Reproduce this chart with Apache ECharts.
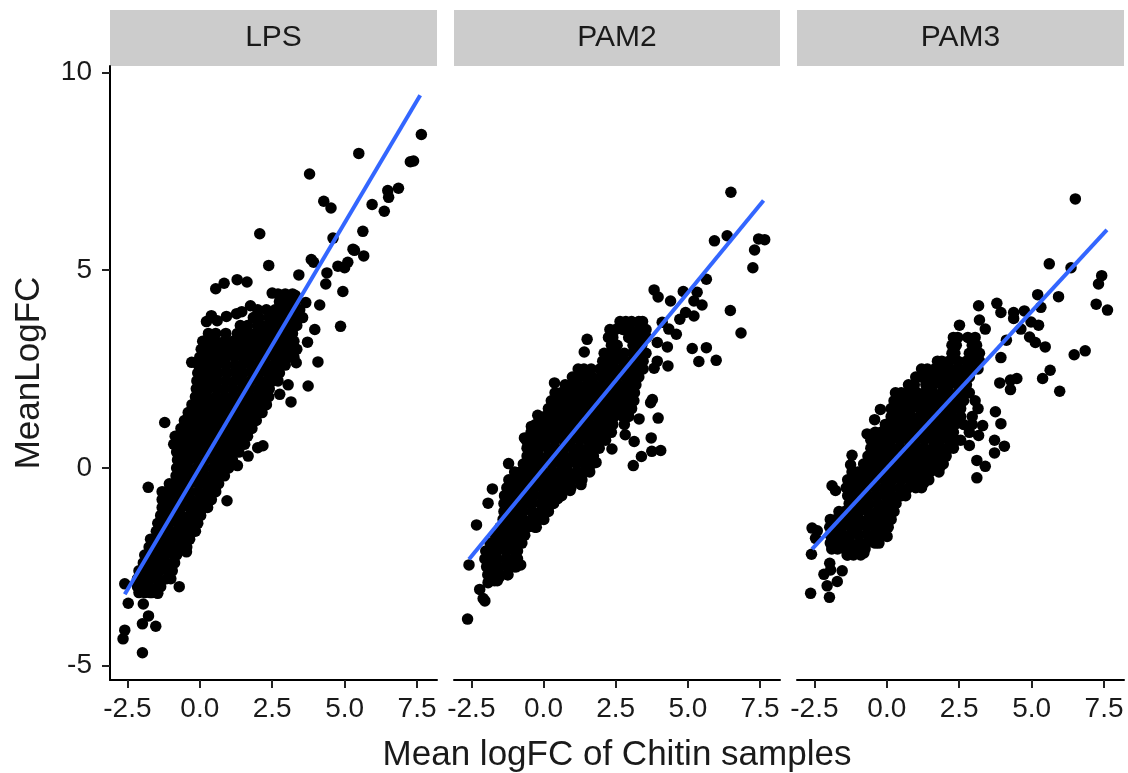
<!DOCTYPE html>
<html>
<head>
<meta charset="utf-8">
<title>MeanLogFC</title>
<script src="https://cdn.jsdelivr.net/npm/echarts@6/dist/echarts.min.js"></script>
<style>
html,body{margin:0;padding:0;background:#fff}
#main{width:1128px;height:773px}
</style>
</head>
<body>
<div id="main"></div>
<script>
var panelNames = ['LPS', 'PAM2', 'PAM3'];
var xTicks = [-2.5, 0, 2.5, 5, 7.5];
var yTicks = [-5, 0, 5, 10];

// fit lines: [x, y] at both ends
var lpsFit = [[-2.59, -3.19], [7.61, 9.42]];
var pam2Fit = [[-2.58, -2.31], [7.62, 6.76]];
var pam3Fit = [[-2.58, -2.05], [7.6, 6.02]];

// points that can be told apart in the picture
var lpsLoose = [[7.65,8.43],[5.49,7.95],[7.38,7.76],[7.27,7.74],[3.79,7.43],[6.86,7.07],[6.49,7.01],[6.52,6.84],[5.95,6.66],[6.37,6.49],
[4.28,6.74],[4.53,6.57],[5.63,5.98],[2.07,5.92],[4.6,5.81],[5.29,5.53],[5.34,5.5],[5.66,5.36],[2.38,5.12],[3.85,5.27],[3.93,5.2],
[5.11,5.2],[4.77,5.1],[5.0,5.06],[3.42,4.88],[4.39,4.93],[4.35,4.65],[4.94,4.46],[1.63,4.7],[1.29,4.76],[0.84,4.67],[0.55,4.53],
[4.14,4.12],[3.66,4.18],[4.86,3.58],[3.97,3.5],[0.23,3.7],[4.08,2.68],[3.74,2.07],[3.15,1.67],[2.76,1.86],[3.05,2.1],[3.33,2.66],[3.72,3.18],
[-1.21,1.15],[-0.28,2.67],[2.18,0.56],[2.0,0.51],[1.67,0.3],[1.3,0.06],[0.94,-0.83],[-1.78,-0.49],[-0.46,-2.12],[-0.71,-3.0],
[-2.59,-2.93],[-2.47,-3.42],[-1.95,-3.44],[-1.77,-3.74],[-1.98,-3.94],[-1.52,-4.0],[-2.59,-4.1],[-2.65,-4.32],[-1.98,-4.67],[-1.45,-3.17],[-1.72,-3.15],
[0.4,3.85],[0.92,3.83],[1.27,3.9],[0.6,3.72],[1.75,4.1],[1.45,3.95],[2.5,4.42],[3.3,4.36]];

var pam2Loose = [[6.49,6.97],[6.36,5.87],[5.92,5.74],[7.45,5.79],[7.66,5.77],[7.31,5.51],[7.25,5.06],[5.64,4.77],[6.47,3.98],[6.84,3.41],
[3.83,4.5],[3.97,4.32],[4.4,4.22],[4.84,4.46],[5.32,4.44],[5.21,4.22],[5.49,4.12],[4.92,3.93],[5.21,3.84],[4.72,3.76],[4.11,3.68],[4.34,3.51],
[4.6,3.38],[3.94,3.17],[4.29,3.06],[5.15,3.02],[5.64,3.04],[5.38,2.69],[5.98,2.72],[3.94,2.7],[3.83,2.52],[4.31,2.58],[3.77,1.73],[3.71,1.65],
[3.97,1.26],[3.73,0.76],[3.31,1.24],[3.14,0.67],[2.83,0.84],[2.37,0.48],[4.06,0.44],[3.75,0.42],[3.39,0.29],[3.11,0.06],[1.82,0.14],
[1.51,3.25],[1.41,2.93],[0.38,2.15],[-0.2,1.33],[-0.42,1.05],[-0.66,0.76],[-1.21,0.11],[-1.77,-0.53],[-1.92,-0.89],[-2.32,-1.44],[-2.58,-2.45],
[-2.21,-3.07],[-2.03,-3.36],[-2.09,-3.3],[-2.63,-3.82],[-0.79,-2.45],[-1.54,-2.77],[-1.92,-2.9],[0.49,-0.78],[0.92,-0.57],[1.3,-0.42],[0.15,-1.06]];

var pam3Loose = [[6.51,6.8],[5.61,5.16],[6.36,5.06],[7.42,4.86],[7.31,4.65],[5.93,4.33],[5.21,4.38],[7.23,4.14],[7.62,3.99],[5.32,4.06],[3.17,4.1],
[3.8,4.16],[3.94,3.93],[4.38,3.93],[4.38,3.78],[4.75,3.97],[4.98,3.69],[5.24,3.61],[4.63,3.51],[4.93,3.31],[5.13,3.17],[5.47,3.06],[4.13,3.23],
[6.85,2.96],[6.47,2.86],[5.64,2.47],[5.38,2.26],[5.97,1.94],[4.49,2.26],[4.27,2.22],[4.27,1.98],[3.9,2.15],[3.94,2.79],[2.51,3.61],[3.2,3.74],[3.4,3.51],
[3.75,1.42],[3.94,1.12],[3.72,0.7],[4.06,0.55],[3.72,0.38],[3.31,1.07],[3.17,0.82],[2.85,0.57],[3.11,0.19],[3.4,0.04],[3.11,-0.25],[-0.22,1.48],[-0.42,1.22],
[-0.68,0.86],[-1.2,0.32],[-1.25,0.08],[-1.89,-0.45],[-1.77,-0.57],[-2.58,-1.52],[-2.4,-1.59],[-2.46,-1.78],[-2.6,-2.18],[-1.97,-2.41],[-1.54,-2.6],
[-2.17,-2.69],[-1.71,-2.87],[-2.06,-2.98],[-2.63,-3.17],[-1.98,-3.27],[-1.94,-2.58],[0.01,-1.73],[-0.79,-2.15],[-1.37,-2.2],[1.28,-0.38],[0.87,-0.42],[1.85,0.04]];

// the solid middle of each cloud, where single points overlap and cannot be read;
// estimated by eye, one line per y level: [y, x, x, ...]
var lpsCore = [
[4.4,2.7,2.95,3.2],
[4.2,2.75,3.05,3.3],
[4.0,2.0,2.3,2.6,2.85,3.15,3.45],
[3.8,1.85,2.05,2.4,2.7,3.0,3.3,3.55],
[3.6,1.4,1.65,2.0,2.3,2.6,2.9,3.2,3.35],
[3.4,0.3,0.55,0.9,1.3,1.6,1.9,2.2,2.5,2.8,3.05,3.2],
[3.2,0.1,0.3,0.55,0.85,1.15,1.45,1.75,2.0,2.3,2.6,2.85,3.05,3.25],
[3.0,0.05,0.25,0.5,0.75,1.05,1.35,1.6,1.9,2.2,2.45,2.75,3.0,3.2,3.35],
[2.8,0.0,0.2,0.4,0.65,0.9,1.2,1.5,1.75,2.05,2.3,2.6,2.9,3.1,3.25],
[2.6,-0.05,0.15,0.35,0.6,0.9,1.2,1.45,1.75,2.0,2.3,2.55,2.8,2.95],
[2.4,-0.07,0.15,0.4,0.65,0.95,1.25,1.5,1.8,2.05,2.35,2.6,2.75],
[2.2,-0.1,0.1,0.35,0.6,0.9,1.2,1.45,1.75,2.05,2.3,2.5,2.7],
[2.0,-0.12,0.1,0.3,0.6,0.85,1.15,1.45,1.7,2.0,2.25,2.4],
[1.8,-0.15,0.05,0.25,0.55,0.85,1.1,1.4,1.7,1.95,2.2,2.38],
[1.6,-0.27,-0.1,0.15,0.45,0.7,1.0,1.3,1.55,1.85,2.1,2.3],
[1.4,-0.4,-0.2,0.05,0.3,0.6,0.9,1.15,1.45,1.75,1.95,2.15],
[1.2,-0.53,-0.35,-0.1,0.2,0.45,0.75,1.05,1.3,1.6,1.8,1.95],
[1.0,-0.65,-0.45,-0.2,0.05,0.35,0.65,0.9,1.2,1.5,1.65,1.8],
[0.8,-0.85,-0.65,-0.4,-0.15,0.15,0.45,0.7,1.0,1.3,1.5,1.65],
[0.6,-0.9,-0.7,-0.5,-0.2,0.05,0.35,0.65,0.9,1.2,1.4,1.55],
[0.4,-0.8,-0.6,-0.35,-0.1,0.2,0.5,0.75,1.05,1.2,1.35],
[0.2,-0.77,-0.6,-0.35,-0.05,0.2,0.5,0.8,1.0,1.13],
[0.0,-0.8,-0.65,-0.4,-0.1,0.15,0.45,0.7,0.9,1.0],
[-0.2,-0.82,-0.65,-0.4,-0.15,0.15,0.4,0.65,0.85],
[-0.4,-1.05,-0.85,-0.65,-0.35,-0.05,0.2,0.45,0.65],
[-0.6,-1.3,-1.15,-0.9,-0.6,-0.35,-0.05,0.25,0.45,0.55],
[-0.8,-1.3,-1.1,-0.85,-0.6,-0.3,0.0,0.25,0.4],
[-1.0,-1.3,-1.15,-0.9,-0.65,-0.35,-0.05,0.15,0.27],
[-1.2,-1.35,-1.15,-0.95,-0.65,-0.35,-0.1,0.03],
[-1.4,-1.45,-1.25,-1.05,-0.75,-0.45,-0.2,-0.07],
[-1.6,-1.5,-1.35,-1.1,-0.8,-0.55,-0.25,-0.15],
[-1.8,-1.7,-1.5,-1.25,-1.0,-0.7,-0.45,-0.35],
[-2.0,-1.75,-1.55,-1.3,-1.05,-0.75,-0.55,-0.45],
[-2.2,-1.9,-1.7,-1.45,-1.2,-0.9,-0.8],
[-2.4,-1.95,-1.75,-1.55,-1.25,-0.95,-0.87],
[-2.6,-2.1,-1.9,-1.65,-1.4,-1.1,-0.95],
[-2.8,-2.15,-1.95,-1.7,-1.45,-1.15,-1.0],
[-3.0,-2.15,-1.95,-1.75,-1.45,-1.35],
[-3.15,-2.1,-1.9,-1.65,-1.5]
];

var pam2Core = [
[3.7,2.65,2.85,3.05,3.3,3.43],
[3.5,2.3,2.5,2.75,3.0,3.3,3.55],
[3.3,2.25,2.4,2.95,3.25,3.45,3.57],
[3.1,2.35,2.55,3.1,3.35,3.4],
[2.9,2.1,2.3,2.55,2.8,3.1,3.4,3.55],
[2.7,2.05,2.25,2.45,2.75,3.05,3.3,3.45],
[2.5,1.2,1.4,1.65,1.95,2.2,2.5,2.8,3.05,3.3,3.45],
[2.3,1.0,1.2,1.45,1.7,2.0,2.3,2.55,2.85,3.15,3.3],
[2.1,0.75,0.95,1.2,1.5,1.75,2.05,2.35,2.6,2.9,3.05,3.2],
[1.9,0.4,0.6,0.85,1.1,1.4,1.7,1.95,2.25,2.55,2.8,3.0,3.15],
[1.7,0.27,0.45,0.7,1.0,1.25,1.55,1.85,2.1,2.4,2.7,2.95,3.13],
[1.5,0.17,0.35,0.6,0.85,1.15,1.45,1.7,2.0,2.3,2.55,2.85,3.05],
[1.3,0.05,0.25,0.45,0.75,1.05,1.3,1.6,1.9,2.15,2.45,2.75,2.95],
[1.1,-0.27,-0.1,0.15,0.45,0.7,1.0,1.3,1.55,1.85,2.15,2.4,2.8],
[0.9,-0.43,-0.25,0.0,0.3,0.55,0.85,1.15,1.4,1.7,2.0,2.2,2.35],
[0.7,-0.6,-0.4,-0.15,0.1,0.4,0.7,0.95,1.25,1.55,1.8,2.0,2.15],
[0.5,-0.57,-0.4,-0.15,0.15,0.4,0.7,1.0,1.25,1.55,1.8,1.93],
[0.3,-0.57,-0.37,-0.15,0.15,0.45,0.7,1.0,1.3,1.55,1.73],
[0.1,-0.7,-0.5,-0.25,0.0,0.3,0.6,0.85,1.15,1.45,1.67],
[-0.1,-1.0,-0.8,-0.55,-0.3,0.0,0.3,0.55,0.85,1.15,1.4,1.6],
[-0.3,-1.2,-1.0,-0.75,-0.5,-0.2,0.1,0.35,0.65,0.95,1.2,1.33],
[-0.5,-1.27,-1.1,-0.85,-0.55,-0.3,0.0,0.3,0.55,0.8,0.95],
[-0.7,-1.35,-1.15,-0.9,-0.65,-0.35,-0.05,0.2,0.45,0.63],
[-0.9,-1.37,-1.2,-0.95,-0.65,-0.4,-0.1,0.2,0.35],
[-1.1,-1.37,-1.2,-0.95,-0.7,-0.4,-0.1,0.05,0.17],
[-1.3,-1.4,-1.2,-0.95,-0.7,-0.4,-0.15,0.01],
[-1.5,-1.5,-1.35,-1.1,-0.8,-0.55,-0.3,-0.25],
[-1.7,-1.67,-1.5,-1.25,-0.95,-0.7,-0.65],
[-1.9,-1.85,-1.65,-1.4,-1.15,-0.85,-0.75],
[-2.1,-2.0,-1.8,-1.6,-1.3,-1.0,-0.9],
[-2.3,-2.03,-1.85,-1.6,-1.3,-1.05,-0.9],
[-2.5,-1.97,-1.8,-1.55,-1.25,-1.0,-0.95],
[-2.7,-1.93,-1.75,-1.5,-1.25,-1.23],
[-2.85,-1.88,-1.7,-1.6]
];

var pam3Core = [
[3.3,2.3,2.45,2.8,3.05],
[3.1,2.25,2.4,2.95,3.1],
[2.9,2.25,2.35,2.85,3.1,3.2],
[2.7,1.75,1.9,2.15,2.45,2.75,3.05,3.2],
[2.5,1.2,1.4,1.65,1.9,2.2,2.5,2.8,3.0,3.15],
[2.3,1.0,1.2,1.5,1.75,2.05,2.35,2.6,2.85],
[2.1,0.75,0.95,1.35,1.6,1.9,2.15,2.45,2.75],
[1.9,0.3,0.5,0.75,1.05,1.3,1.6,1.9,2.15,2.45,2.75,2.85],
[1.7,0.25,0.45,0.65,0.95,1.25,1.5,1.8,2.1,2.35,2.65,3.05],
[1.5,0.15,0.35,0.6,0.85,1.15,1.45,1.7,2.0,2.3,2.55,3.15],
[1.3,0.15,0.35,0.55,0.85,1.15,1.4,1.7,2.0,2.25,2.55,2.95],
[1.1,-0.05,0.15,0.4,0.65,0.95,1.25,1.5,1.8,2.1,2.35,2.65,2.95],
[0.9,-0.4,-0.2,0.05,0.3,0.6,0.9,1.15,1.45,1.75,2.0,2.3,2.85],
[0.7,-0.55,-0.35,-0.1,0.15,0.45,0.75,1.0,1.3,1.6,1.85,2.15,2.4,2.55],
[0.5,-0.55,-0.35,-0.1,0.2,0.45,0.75,1.05,1.3,1.6,1.9,2.15,2.3],
[0.3,-0.65,-0.45,-0.2,0.05,0.35,0.65,0.9,1.2,1.5,1.75,1.95,2.05],
[0.1,-0.8,-0.6,-0.35,-0.1,0.2,0.5,0.75,1.05,1.35,1.6,1.85,1.95],
[-0.1,-1.2,-1.0,-0.75,-0.45,-0.2,0.1,0.4,0.65,0.95,1.25,1.5,1.8],
[-0.3,-1.35,-1.15,-0.9,-0.65,-0.35,-0.05,0.2,0.5,0.8,1.05,1.3,1.45],
[-0.5,-1.4,-1.2,-0.95,-0.7,-0.4,-0.1,0.15,0.45,0.75,1.0,1.2],
[-0.7,-1.35,-1.15,-0.9,-0.65,-0.35,-0.05,0.2,0.5,0.65],
[-0.9,-1.3,-1.1,-0.85,-0.6,-0.3,0.0,0.2,0.32],
[-1.1,-1.65,-1.45,-1.2,-0.95,-0.65,-0.35,-0.1,0.15,0.25],
[-1.3,-1.95,-1.75,-1.5,-1.25,-0.95,-0.65,-0.4,-0.1,0.15],
[-1.5,-1.97,-1.8,-1.55,-1.25,-1.0,-0.7,-0.4,-0.15,0.05],
[-1.7,-1.95,-1.75,-1.5,-1.25,-0.95,-0.65,-0.4,-0.15,-0.05],
[-1.9,-1.95,-1.75,-1.55,-1.25,-0.95,-0.7,-0.4,-0.27],
[-2.05,-1.9,-1.7,-1.45,-1.2,-0.9,-0.75],
[-2.2,-1.35,-1.15,-0.9]
];

function rowsToPoints(rows) {
  var out = [];
  for (var i = 0; i < rows.length; i++) {
    for (var j = 1; j < rows[i].length; j++) {
      out.push([rows[i][j], rows[i][0]]);
    }
  }
  return out;
}

var fits = [lpsFit, pam2Fit, pam3Fit];
var points = [
  lpsLoose.concat(rowsToPoints(lpsCore)),
  pam2Loose.concat(rowsToPoints(pam2Core)),
  pam3Loose.concat(rowsToPoints(pam3Core))
];

var panelLeft = [110, 454, 797];
var panelWidth = [327, 326, 327];
var fontName = '"Liberation Sans", Arial, sans-serif';
var textColor = '#1a1a1a';

var grids = [], xAxes = [], yAxes = [], series = [], strips = [];
for (var p = 0; p < 3; p++) {
  grids.push({left: panelLeft[p], top: 66, width: panelWidth[p], height: 614, outerBoundsMode: 'none'});
  xAxes.push({
    type: 'value', gridIndex: p, min: -3.1, max: 8.19,
    name: p === 1 ? 'Mean logFC of Chitin samples' : '',
    nameLocation: 'middle', nameGap: 58,
    nameTextStyle: {fontFamily: fontName, fontSize: 35, color: textColor},
    splitLine: {show: false},
    axisLine: {onZero: false, lineStyle: {color: '#000', width: 2}},
    axisTick: {length: 8, lineStyle: {color: '#222', width: 2}, customValues: xTicks},
    axisLabel: {
      customValues: xTicks, margin: 15, color: textColor,
      fontFamily: fontName, fontSize: 28,
      formatter: function (v) { return v.toFixed(1); }
    }
  });
  yAxes.push({
    type: 'value', gridIndex: p, min: -5.36, max: 10.16,
    show: p === 0,
    name: p === 0 ? 'MeanLogFC' : '',
    nameLocation: 'middle', nameGap: 63,
    nameTextStyle: {fontFamily: fontName, fontSize: 35, color: textColor},
    splitLine: {show: false},
    axisLine: {onZero: false, lineStyle: {color: '#000', width: 2}},
    axisTick: {length: 8, lineStyle: {color: '#222', width: 2}, customValues: yTicks},
    axisLabel: {customValues: yTicks, margin: 18, color: textColor, fontFamily: fontName, fontSize: 28}
  });
  series.push({
    type: 'scatter', xAxisIndex: p, yAxisIndex: p, data: points[p],
    symbol: 'circle', symbolSize: 11.5, clip: false, silent: true,
    itemStyle: {color: '#000', opacity: 1}, z: 2
  });
  series.push({
    type: 'line', xAxisIndex: p, yAxisIndex: p, data: fits[p],
    showSymbol: false, symbol: 'none', clip: false, silent: true,
    lineStyle: {color: '#3366FF', width: 4, cap: 'butt'}, z: 3
  });
  strips.push({
    type: 'rect', shape: {x: panelLeft[p], y: 10, width: panelWidth[p], height: 56},
    style: {fill: '#cccccc'}, silent: true
  });
  strips.push({
    type: 'text', x: panelLeft[p] + panelWidth[p] / 2, y: 38, silent: true,
    style: {
      text: panelNames[p], fill: textColor, align: 'center', verticalAlign: 'middle',
      font: '30px ' + fontName
    }
  });
}

var chart = echarts.init(document.getElementById('main'));
chart.setOption({
  animation: false,
  backgroundColor: '#fff',
  grid: grids,
  xAxis: xAxes,
  yAxis: yAxes,
  series: series,
  graphic: strips
});
</script>
</body>
</html>
